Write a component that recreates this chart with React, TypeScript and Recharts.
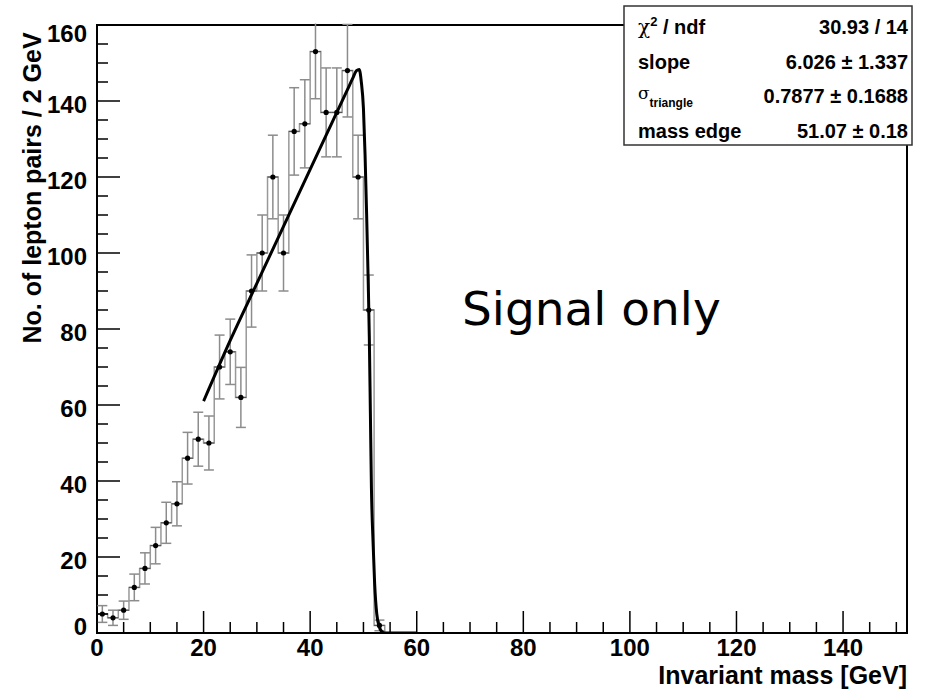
import React from 'react';
import { ComposedChart, Line, Scatter, XAxis, YAxis, ErrorBar, ReferenceArea } from 'recharts';

// histogram: 2 GeV bins
const binCenters = [1, 3, 5, 7, 9, 11, 13, 15, 17, 19, 21, 23, 25, 27, 29, 31, 33, 35, 37, 39, 41, 43, 45, 47, 49, 51, 53];
const binCounts = [5, 4, 6, 12, 17, 23, 29, 34, 46, 51, 50, 70, 74, 62, 90, 100, 120, 100, 132, 134, 153, 137, 137, 148, 120, 85, 2];
const binErrors = [2.2, 2, 2.4, 3.5, 4.1, 4.8, 5.4, 5.8, 6.8, 7.1, 7.1, 8.4, 8.6, 7.9, 9.5, 10, 11, 10, 11.5, 11.6, 12.4, 11.7, 11.7, 12.2, 11, 9.2, 1.4];
const BIN_HALF = 1;

// fitted curve
const fitMass = [20, 25, 30, 35, 40, 45, 47, 48, 48.7, 49.2, 49.6, 50, 50.3, 50.6, 50.9, 51.1, 51.3, 51.5, 51.8, 52.1, 52.5, 53, 53.5, 54, 60];
const fitValue = [61, 77, 92, 107, 122, 137, 143, 146, 148, 148.3, 145, 138, 126, 110, 92, 78, 58, 38, 24, 13, 5, 1.5, 0.3, 0, 0];

const xTicks = [0, 5, 10, 15, 20, 25, 30, 35, 40, 45, 50, 55, 60, 65, 70, 75, 80, 85, 90, 95, 100, 105, 110, 115, 120, 125, 130, 135, 140, 145, 150];
const xMajor = [0, 20, 40, 60, 80, 100, 120, 140];
const yTicks = [0, 5, 10, 15, 20, 25, 30, 35, 40, 45, 50, 55, 60, 65, 70, 75, 80, 85, 90, 95, 100, 105, 110, 115, 120, 125, 130, 135, 140, 145, 150, 155, 160];
const yMajor = [0, 20, 40, 60, 80, 100, 120, 140, 160];

const statRows = [
  { label: 'chi', value: '30.93 / 14' },
  { label: 'slope', value: '6.026 \u00b1 1.337' },
  { label: 'sigma', value: '0.7877 \u00b1 0.1688' },
  { label: 'mass edge', value: '51.07 \u00b1 0.18' },
];

const FONT = '"Liberation Sans", Arial, Helvetica, sans-serif';
const X_GAP = 6;
const Y_GAP = 6;

const points = binCenters.map((x, i) => ({ x, y: binCounts[i], err: binErrors[i], xerr: BIN_HALF }));
const steps = [
  ...binCenters.map((x, i) => ({ x: x - BIN_HALF, y: binCounts[i] })),
  { x: binCenters[binCenters.length - 1] + BIN_HALF, y: 0 },
];
const fitData = fitMass.map((x, i) => ({ x, y: fitValue[i] }));

function XTick(props: any) {
  const { x, y, payload } = props;
  const axisY = y - X_GAP;
  const major = xMajor.includes(payload.value);
  return (
    <g>
      <line x1={x} x2={x} y1={axisY} y2={axisY - (major ? 22 : 11)} stroke="#000" strokeWidth={1.5} />
      {major && (
        <text x={x} y={y} dy="0.72em" textAnchor="middle" fontFamily={FONT} fontWeight="bold" fontSize={24} fill="#000">
          {payload.value}
        </text>
      )}
    </g>
  );
}

function YTick(props: any) {
  const { x, y, payload } = props;
  const axisX = x + Y_GAP;
  const major = yMajor.includes(payload.value);
  const shift = payload.value === 160 ? 8 : payload.value === 0 ? -7 : 3;
  return (
    <g>
      <line x1={axisX} x2={axisX + (major ? 23 : 11)} y1={y} y2={y} stroke="#000" strokeWidth={1.5} />
      {major && (
        <text x={x - 4} y={y + shift} dy="0.36em" textAnchor="end" fontFamily={FONT} fontWeight="bold" fontSize={24} fill="#000">
          {payload.value}
        </text>
      )}
    </g>
  );
}

const Dot = (props: any) => <circle cx={props.cx} cy={props.cy} r={2.6} fill="#000" />;

function StatLabel({ kind, y }: { kind: string; y: number }) {
  if (kind === 'chi') {
    return (
      <text x={638} y={y} fontFamily={FONT} fontWeight="bold" fontSize={20}>
        <tspan fontWeight="normal" fontFamily="'DejaVu Serif', serif">χ</tspan>
        <tspan dy={-8} fontSize={13}>2</tspan>
        <tspan dy={8}> / ndf</tspan>
      </text>
    );
  }
  if (kind === 'sigma') {
    return (
      <text x={638} y={y - 4} fontFamily={FONT} fontSize={17}>
        <tspan fontFamily="'DejaVu Serif', serif">σ</tspan>
        <tspan dy={8} fontSize={12} fontWeight="bold">triangle</tspan>
      </text>
    );
  }
  return (
    <text x={638} y={y} fontFamily={FONT} fontWeight="bold" fontSize={20}>
      {kind}
    </text>
  );
}

export default function App() {
  return (
    <div style={{ position: 'absolute', left: 0, top: 0, width: 927, height: 690, background: '#fff' }}>
      <ComposedChart width={927} height={690} margin={{ top: 25, right: 20, bottom: 17, left: 0 }}>
        <XAxis
          type="number"
          dataKey="x"
          domain={[0, 152]}
          ticks={xTicks}
          interval={0}
          tick={<XTick />}
          tickLine={false}
          axisLine={false}
          tickSize={0}
          tickMargin={X_GAP}
          height={40}
          allowDataOverflow
        />
        <YAxis
          type="number"
          dataKey="y"
          domain={[0, 160]}
          ticks={yTicks}
          interval={0}
          tick={<YTick />}
          tickLine={false}
          axisLine={false}
          tickSize={0}
          tickMargin={Y_GAP}
          width={97}
          allowDataOverflow
        />
        <ReferenceArea x1={0} x2={152} y1={0} y2={160} fill="none" stroke="#000" strokeWidth={2} />
        <Line
          data={steps}
          dataKey="y"
          type="stepAfter"
          stroke="#999"
          strokeWidth={1.5}
          dot={false}
          activeDot={false}
          isAnimationActive={false}
        />
        <Scatter data={points} dataKey="y" fill="#000" shape={<Dot />} isAnimationActive={false}>
          <ErrorBar dataKey="err" direction="y" width={5} stroke="#8c8c8c" strokeWidth={1.5} />
          <ErrorBar dataKey="xerr" direction="x" width={0} stroke="#555" strokeWidth={1.2} />
        </Scatter>
        <Line
          data={fitData}
          dataKey="y"
          type="monotone"
          stroke="#000"
          strokeWidth={3}
          dot={false}
          activeDot={false}
          isAnimationActive={false}
        />
      </ComposedChart>
      <svg width={927} height={690} style={{ position: 'absolute', left: 0, top: 0, pointerEvents: 'none' }}>
        {/* hide error bars that run past the top of the frame */}
        <rect x={99} y={0} width={806} height={23.5} fill="#fff" />
        <text
          transform="translate(41 188) rotate(-90)"
          textAnchor="middle"
          fontFamily={FONT}
          fontWeight="bold"
          fontSize={25}
        >
          No. of lepton pairs / 2 GeV
        </text>
        <text x={907} y={684} textAnchor="end" fontFamily={FONT} fontWeight="bold" fontSize={25}>
          Invariant mass [GeV]
        </text>
        <text x={462} y={325} fontFamily="'DejaVu Sans', sans-serif" fontSize={47}>
          Signal only
        </text>
        <rect x={624} y={6} width={288} height={139} fill="#fff" stroke="#333" strokeWidth={1.5} />
        {statRows.map((r, i) => {
          const y = 34 + i * 34.5;
          return (
            <g key={r.label}>
              <StatLabel kind={r.label} y={y} />
              <text x={908} y={y} textAnchor="end" fontFamily={FONT} fontWeight="bold" fontSize={20}>
                {r.value}
              </text>
            </g>
          );
        })}
      </svg>
    </div>
  );
}
